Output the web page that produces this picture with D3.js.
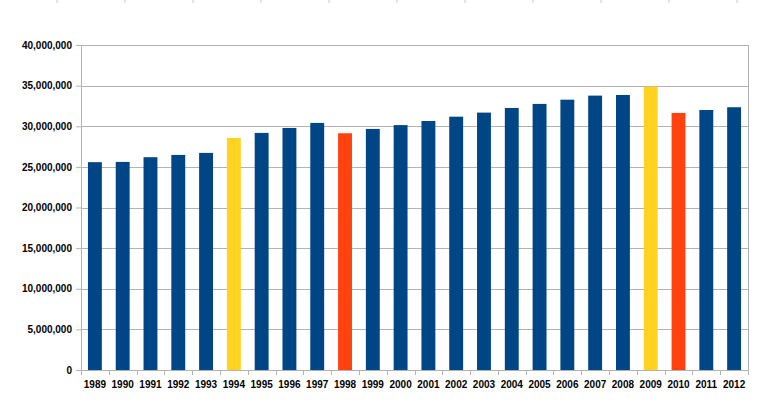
<!DOCTYPE html>
<html>
<head>
<meta charset="utf-8">
<script src="https://cdn.jsdelivr.net/npm/d3@7"></script>
<style>
  body { margin: 0; background: #fff; }
  svg text { font-family: "Liberation Sans", Arial, sans-serif; font-size: 10px; fill: #000; }
</style>
</head>
<body>
<svg class="chart"></svg>
<script>
const size = { w: 776, h: 411 };
const margin = { top: 45, right: 28, bottom: 41, left: 81 };

// years on the x axis
const years = ["1989", "1990", "1991", "1992", "1993", "1994", "1995", "1996", "1997", "1998", "1999", "2000",
	"2001", "2002", "2003", "2004", "2005", "2006", "2007", "2008", "2009", "2010", "2011", "2012"];
// bar values
const values = [25580000, 25610000, 26190000, 26470000, 26720000, 28560000, 29180000, 29790000, 30410000, 29140000,
	29670000, 30140000, 30650000, 31180000, 31680000, 32250000, 32750000, 33270000, 33770000, 33850000,
	34870000, 31640000, 32000000, 32340000];
// highlight group of each bar: 0 normal, 1 yellow, 2 orange
const groups = [0, 0, 0, 0, 0, 1, 0, 0, 0, 2, 0, 0, 0, 0, 0, 0, 0, 0, 0, 0, 1, 2, 0, 0];
const yTicks = [0, 5000000, 10000000, 15000000, 20000000, 25000000, 30000000, 35000000, 40000000];
const colors = ["#004586", "#ffd320", "#ff420e"];

const svg = d3.select("svg.chart").attr("width", size.w).attr("height", size.h);

const innerW = size.w - margin.left - margin.right;
const innerH = size.h - margin.top - margin.bottom;

// little marks along the top edge
svg.selectAll("line.ruler")
	.data(d3.range(11))
	.join("line")
	.classed("ruler", true)
	.attr("x1", (d) => 57 + d * 68)
	.attr("x2", (d) => 57 + d * 68)
	.attr("y1", 0)
	.attr("y2", 3)
	.attr("stroke", "#c8c8c8");

const g = svg.append("g").attr("transform", `translate(${margin.left},${margin.top})`);

const x = d3.scaleBand().domain(years).range([0, innerW]).paddingInner(0.5).paddingOuter(0.25);
const y = d3.scaleLinear().domain([0, 40000000]).range([innerH, 0]);

// grid
g.selectAll("line.grid")
	.data(yTicks)
	.join("line")
	.classed("grid", true)
	.attr("x1", 0)
	.attr("x2", innerW)
	.attr("y1", (d) => Math.round(y(d)) + 0.5)
	.attr("y2", (d) => Math.round(y(d)) + 0.5)
	.attr("stroke", "#b3b3b3");

// right border
g.append("line")
	.attr("x1", innerW + 0.5).attr("x2", innerW + 0.5)
	.attr("y1", 0).attr("y2", innerH)
	.attr("stroke", "#b3b3b3");

// bars
g.selectAll("rect.bar")
	.data(years)
	.join("rect")
	.classed("bar", true)
	.attr("x", (d) => x(d))
	.attr("width", x.bandwidth())
	.attr("y", (d, i) => y(values[i]))
	.attr("height", (d, i) => innerH - y(values[i]))
	.attr("fill", (d, i) => colors[groups[i]]);

// y axis
const yAxis = g.append("g")
	.call(d3.axisLeft(y).tickValues(yTicks).tickSize(5).tickPadding(4).tickFormat(d3.format(",")));
yAxis.select(".domain").attr("stroke", "#b3b3b3");
yAxis.selectAll(".tick line").attr("stroke", "#b3b3b3");
yAxis.selectAll("text").attr("font-size", 10).attr("font-family", null).style("font-weight", "bold");

// x axis, ticks between the bands
const xAxis = g.append("g").attr("transform", `translate(0,${innerH})`)
	.call(d3.axisBottom(x).tickSize(0).tickPadding(11));
xAxis.select(".domain").attr("stroke", "#b3b3b3");
xAxis.selectAll("text").attr("font-size", 10).attr("font-family", null).style("font-weight", "bold");

g.selectAll("line.xtick")
	.data(d3.range(years.length + 1))
	.join("line")
	.classed("xtick", true)
	.attr("x1", (d) => Math.round(d * x.step()) + 0.5)
	.attr("x2", (d) => Math.round(d * x.step()) + 0.5)
	.attr("y1", innerH)
	.attr("y2", innerH + 5)
	.attr("stroke", "#b3b3b3");
</script>
</body>
</html>
